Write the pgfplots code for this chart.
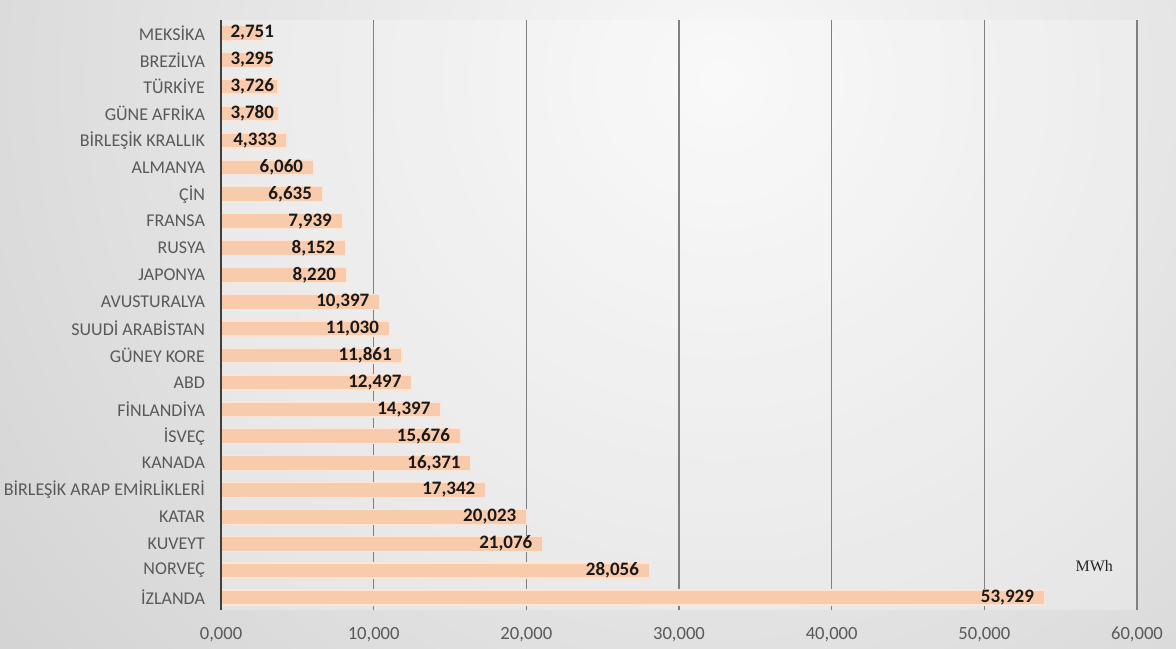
\documentclass[border=0pt]{standalone}
\usepackage{pgfplots}
\pgfplotsset{compat=1.18}
\usepackage{pgfplotstable}
\usepackage{fontspec}
\setmainfont{Carlito}
\newfontfamily\serifmwh{Liberation Serif}
\definecolor{peach}{HTML}{F8CBAD}
\definecolor{peachedge}{HTML}{FCE4D6}
\definecolor{labgray}{HTML}{595959}
\pgfplotstableread{
i v lx
0 53929 53929
1 28056 28056
2 21076 21076
3 20023 20023
4 17342 17342
5 16371 16371
6 15676 15676
7 14397 14397
8 12497 12497
9 11861 11861
10 11030 11030
11 10397 10397
12 8220 8220
13 8152 8152
14 7939 7939
15 6635 6635
16 6060 6060
17 4333 4333
18 3780 4150
19 3726 4150
20 3295 4150
21 2751 4150
}\data
\begin{document}
\begin{tikzpicture}
\begin{scope}
\clip (0,0) rectangle (588pt,324pt);
\shade[inner color=white!97!black, outer color=black!30] (360pt,284pt) circle (880pt);
\end{scope}
\begin{axis}[
  at={(110.5pt,19pt)}, anchor=south west, scale only axis,
  width=458pt, height=295pt,
  xmin=0, xmax=60000, ymin=-0.465, ymax=21.48,
  axis lines*=left,
  axis background/.style={fill=white, fill opacity=0.25},
  x axis line style={draw=none},
  y axis line style={draw=none},
  major tick length=0pt,
  xtick={0,10000,20000,30000,40000,50000,60000},
  xticklabels={{0,000},{10,000},{20,000},{30,000},{40,000},{50,000},{60,000}},
  ytick={0,...,21},
  yticklabels={{İZLANDA},{NORVEÇ},{KUVEYT},{KATAR},{BİRLEŞİK ARAP EMİRLİKLERİ},{KANADA},{İSVEÇ},{FİNLANDİYA},{ABD},{GÜNEY KORE},{SUUDİ ARABİSTAN},{AVUSTURALYA},{JAPONYA},{RUSYA},{FRANSA},{ÇİN},{ALMANYA},{BİRLEŞİK KRALLIK},{GÜNE AFRİKA},{TÜRKİYE},{BREZİLYA},{MEKSİKA}},
  xticklabel style={font=\fontsize{9.3}{10}\selectfont, text=labgray, yshift=-5pt},
  yticklabel style={font=\fontsize{9}{10}\selectfont, text=labgray, xshift=-4.5pt},
  xmajorgrids, grid style={draw=black!50, line width=0.6pt},
  clip=false,
]
\addplot[xbar, bar width=7.5pt, fill=peach, draw=peachedge, line width=0.7pt] table[x=v, y=i] {\data};
\draw[black!75, line width=1pt] (axis cs:0,-0.465) -- (axis cs:0,21.48);
\addplot[draw=none, mark=none, nodes near coords={\pgfmathprintnumber[fixed,precision=0,1000 sep={,},assume math mode=true]{\pgfplotspointmeta}}, point meta=explicit,
  nodes near coords style={anchor=east, font=\bfseries\fontsize{9.5}{10}\selectfont, text=black!90, inner sep=2pt, xshift=-3pt}]
  table[x=lx, y=i, meta=v] {\data};
\node[font=\serifmwh\fontsize{8}{9}\selectfont, text=black!85] at (axis cs:57200,1.17) {MWh};
\end{axis}
\pgfresetboundingbox
\useasboundingbox (0,0) rectangle (588pt,324pt);
\end{tikzpicture}
\end{document}
